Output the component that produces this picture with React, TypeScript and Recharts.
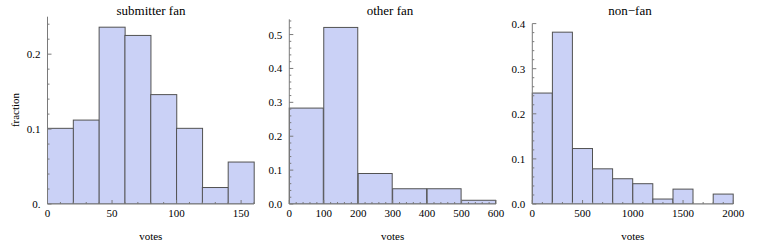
import { BarChart, Bar, XAxis, YAxis } from "recharts";

// bin edges and fractions
const fanEdges = [0, 20, 40, 60, 80, 100, 120, 140, 160];
const fanFrac = [0.101, 0.112, 0.236, 0.225, 0.146, 0.101, 0.022, 0.056];
const fanXTicks = [0, 50, 100, 150];
const fanYTicks = [0, 0.1, 0.2];
const fanYLabels = ["0.", "0.1", "0.2"];

const otherEdges = [0, 100, 200, 300, 400, 500, 600];
const otherFrac = [0.283, 0.521, 0.09, 0.045, 0.045, 0.011];
const otherXTicks = [0, 100, 200, 300, 400, 500, 600];
const otherYTicks = [0, 0.1, 0.2, 0.3, 0.4, 0.5];
const otherYLabels = ["0.0", "0.1", "0.2", "0.3", "0.4", "0.5"];

const nonEdges = [0, 200, 400, 600, 800, 1000, 1200, 1400, 1600, 1800, 2000];
const nonFrac = [0.246, 0.381, 0.123, 0.078, 0.056, 0.045, 0.011, 0.033, 0, 0.022];
const nonXTicks = [0, 500, 1000, 1500, 2000];
const nonYTicks = [0, 0.1, 0.2, 0.3, 0.4];
const nonYLabels = ["0.0", "0.1", "0.2", "0.3", "0.4"];

const FILL = "#cad1f6";
const EDGE = "#525252";
const AXIS = "#7a7a7a";
const FONT = "'Liberation Serif', 'DejaVu Serif', serif";
const PLOT_BOTTOM = 204;

const withMinors = (majors: number[], step: number, max: number) => {
  const out: number[] = [];
  for (let v = 0; v <= max + 1e-9; v += step) out.push(Math.round(v * 1e6) / 1e6);
  majors.forEach((m) => {
    if (!out.some((o) => Math.abs(o - m) < 1e-9)) out.push(m);
  });
  return out.sort((a, b) => a - b);
};

const isMajor = (v: number, majors: number[]) =>
  majors.some((m) => Math.abs(m - v) < 1e-6);

function BinShape(props: any) {
  const { x, y, width, height } = props;
  if (!height || height <= 0.5) {
    return (
      <line x1={x} x2={x + width} y1={PLOT_BOTTOM} y2={PLOT_BOTTOM} stroke="#aaa" strokeWidth={1.5} />
    );
  }
  return (
    <rect x={x} y={y} width={width} height={height} fill={FILL} stroke={EDGE} strokeWidth={1} />
  );
}

type PanelProps = {
  title: string;
  titleX: number;
  left: number;
  width: number;
  margin: { top: number; right: number; bottom: number; left: number };
  yWidth: number;
  edges: number[];
  frac: number[];
  xTicks: number[];
  xMinor: number;
  yTicks: number[];
  yLabels: string[];
  yMinor: number;
  yTop: number;
};

function Panel(p: PanelProps) {
  const data = p.frac.map((f, i) => ({
    bin: `${p.edges[i]}-${p.edges[i + 1]}`,
    lo: p.edges[i],
    frac: f,
  }));
  const xMax = p.edges[p.edges.length - 1];
  const plotLeft = p.margin.left + p.yWidth;
  const xAll = withMinors(p.xTicks, p.xMinor, xMax);
  const yAll = withMinors(p.yTicks, p.yMinor, p.yTop);

  const xTick = (t: any) => {
    const v = t.payload.value;
    const major = isMajor(v, p.xTicks);
    return (
      <g>
        <line x1={t.x} x2={t.x} y1={PLOT_BOTTOM} y2={PLOT_BOTTOM - (major ? 4 : 2)} stroke={AXIS} />
        {major && (
          <text x={t.x} y={PLOT_BOTTOM + 13} textAnchor="middle" fontSize={11} fontFamily={FONT} fill="#000">
            {v}
          </text>
        )}
      </g>
    );
  };

  const yTick = (t: any) => {
    const v = t.payload.value;
    const idx = p.yTicks.findIndex((m) => Math.abs(m - v) < 1e-6);
    const major = idx >= 0;
    return (
      <g>
        <line x1={plotLeft} x2={plotLeft + (major ? 4 : 2)} y1={t.y} y2={t.y} stroke={AXIS} />
        {major && (
          <text x={plotLeft - 7} y={t.y + 4} textAnchor="end" fontSize={11} fontFamily={FONT} fill="#000">
            {p.yLabels[idx]}
          </text>
        )}
      </g>
    );
  };

  return (
    <div style={{ position: "absolute", left: p.left, top: 0, width: p.width, height: 245 }}>
      <BarChart
        width={p.width}
        height={245}
        data={data}
        margin={p.margin}
        barCategoryGap={0}
        barGap={0}
      >
        <XAxis
          xAxisId="num"
          dataKey="lo"
          type="number"
          domain={[0, xMax]}
          ticks={xAll}
          interval={0}
          allowDataOverflow
          height={20}
          axisLine={{ stroke: AXIS }}
          tickLine={false}
          tick={xTick}
        />
        <XAxis xAxisId="cat" dataKey="bin" hide height={0} />
        <YAxis
          type="number"
          domain={[0, p.yTop]}
          ticks={yAll}
          interval={0}
          allowDataOverflow
          width={p.yWidth}
          axisLine={{ stroke: AXIS }}
          tickLine={false}
          tick={yTick}
        />
        <Bar xAxisId="cat" dataKey="frac" shape={BinShape} isAnimationActive={false} />
      </BarChart>
      <div
        style={{
          position: "absolute",
          left: p.titleX - p.left,
          top: 3,
          transform: "translateX(-50%)",
          whiteSpace: "nowrap",
          fontFamily: FONT,
          fontSize: 13,
          lineHeight: "16px",
        }}
      >
        {p.title}
      </div>
      <div
        style={{
          position: "absolute",
          left: plotLeft + (p.width - p.margin.right - plotLeft) / 2,
          top: 229,
          transform: "translateX(-50%)",
          fontFamily: FONT,
          fontSize: 11,
          lineHeight: "14px",
        }}
      >
        votes
      </div>
    </div>
  );
}

export default function App() {
  return (
    <div style={{ position: "absolute", left: 0, top: 0, width: 761, height: 245, background: "#fff" }}>
      <Panel
        title="submitter fan"
        titleX={151}
        left={0}
        width={260}
        margin={{ top: 16.7, right: 6, bottom: 21, left: 17.5 }}
        yWidth={30}
        edges={fanEdges}
        frac={fanFrac}
        xTicks={fanXTicks}
        xMinor={10}
        yTicks={fanYTicks}
        yLabels={fanYLabels}
        yMinor={0.02}
        yTop={0.25}
      />
      <Panel
        title="other fan"
        titleX={390}
        left={255}
        width={250}
        margin={{ top: 19.3, right: 9, bottom: 21, left: 4.3 }}
        yWidth={30}
        edges={otherEdges}
        frac={otherFrac}
        xTicks={otherXTicks}
        xMinor={20}
        yTicks={otherYTicks}
        yLabels={otherYLabels}
        yMinor={0.02}
        yTop={0.545}
      />
      <Panel
        title={"non\u2212fan"}
        titleX={630}
        left={505}
        width={256}
        margin={{ top: 23.6, right: 27.7, bottom: 21, left: 2.3 }}
        yWidth={25}
        edges={nonEdges}
        frac={nonFrac}
        xTicks={nonXTicks}
        xMinor={100}
        yTicks={nonYTicks}
        yLabels={nonYLabels}
        yMinor={0.02}
        yTop={0.4}
      />
      <div
        style={{
          position: "absolute",
          left: 15,
          top: 110,
          transform: "translate(-50%, -50%) rotate(-90deg)",
          fontFamily: FONT,
          fontSize: 11,
          lineHeight: "14px",
        }}
      >
        fraction
      </div>
    </div>
  );
}
